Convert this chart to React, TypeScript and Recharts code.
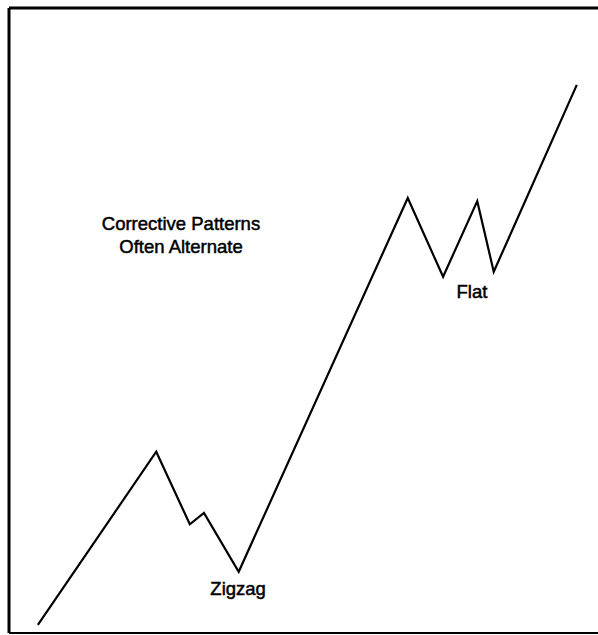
import { LineChart, Line, XAxis, YAxis, ReferenceLine, ReferenceDot } from "recharts";

// wave path: time (0-100) vs price (0-100)
const TIMES = [4.9, 25.0, 30.7, 33.1, 39.0, 67.7, 73.7, 79.5, 82.3, 96.4];
const PRICES = [1.3, 29.0, 17.4, 19.2, 9.8, 69.6, 57.0, 69.1, 57.8, 87.7];

const LABELS = [
  { text: "Corrective Patterns", x: 29.2, y: 65.6 },
  { text: "Often Alternate", x: 29.2, y: 61.8 },
  { text: "Zigzag", x: 38.9, y: 7.2 },
  { text: "Flat", x: 78.6, y: 54.6 },
];

const data = TIMES.map((t, i) => ({ t, p: PRICES[i] }));

const FONT = "'Liberation Sans', Arial, sans-serif";

export default function App() {
  return (
    <div style={{ position: "absolute", left: 0, top: 0, background: "#fff" }}>
      <LineChart
        width={598}
        height={635}
        data={data}
        margin={{ top: 8, right: 0, left: 9, bottom: 2 }}
      >
        <XAxis type="number" dataKey="t" domain={[0, 100]} hide />
        <YAxis type="number" domain={[0, 100]} hide />
        <ReferenceLine y={100} stroke="#000" strokeWidth={3} ifOverflow="visible" />
        <ReferenceLine x={0} stroke="#000" strokeWidth={3} ifOverflow="visible" />
        <ReferenceLine y={0} stroke="#000" strokeWidth={2} ifOverflow="visible" />
        <Line
          type="linear"
          dataKey="p"
          stroke="#000"
          strokeWidth={2.2}
          dot={false}
          isAnimationActive={false}
        />
        {LABELS.map((l) => (
          <ReferenceDot
            key={l.text}
            x={l.x}
            y={l.y}
            r={0}
            fill="none"
            stroke="none"
            ifOverflow="visible"
            label={{
              value: l.text,
              position: "center",
              fill: "#000",
              stroke: "#000",
              strokeWidth: 0.5,
              fontSize: 18.5,
              fontFamily: FONT,
            }}
          />
        ))}
      </LineChart>
    </div>
  );
}
